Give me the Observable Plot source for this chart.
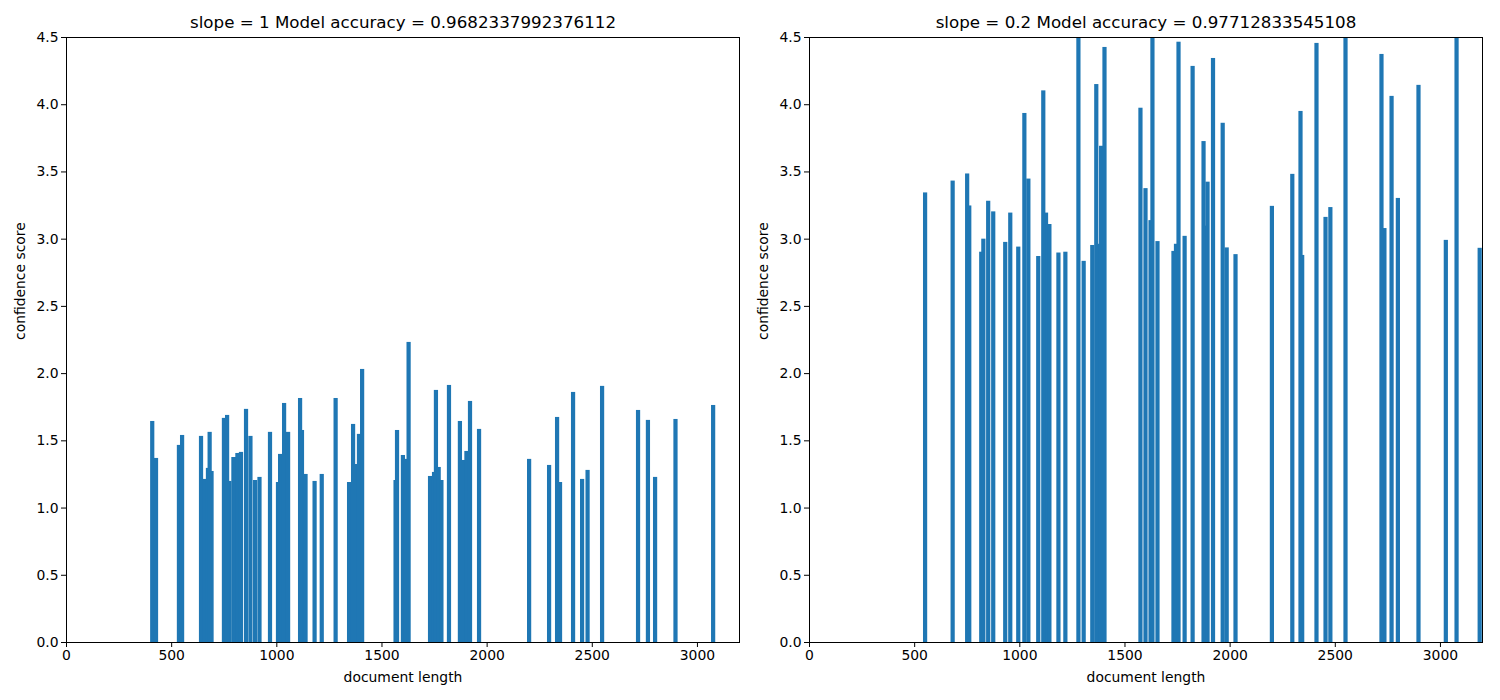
<!DOCTYPE html>
<html>
<head>
<meta charset="utf-8">
<script src="https://cdn.jsdelivr.net/npm/d3@7"></script>
<script src="https://cdn.jsdelivr.net/npm/@observablehq/plot@0.6"></script>
<style>
  html, body { margin: 0; padding: 0; background: white; }
  #wrap { display: flex; flex-direction: row; width: 1500px; height: 700px; }
</style>
</head>
<body>
<div id="wrap"></div>
<script>
// ---- data ----
const titles = [
  "slope = 1 Model accuracy = 0.9682337992376112",
  "slope = 0.2 Model accuracy = 0.97712833545108"
];
const xLabel = "document length";
const yLabel = "confidence score";
const xTicks = [0, 500, 1000, 1500, 2000, 2500, 3000];
const yTicks = [0, 0.5, 1.0, 1.5, 2.0, 2.5, 3.0, 3.5, 4.0, 4.5];

// left panel (slope = 1), in drawing order
const leftLength = [410, 428, 537, 552, 642, 661, 675, 692, 683, 751, 777, 766, 796, 804, 815, 832, 856, 877, 899, 920,
  970, 1008, 1018, 1037, 1056, 1122, 1113, 1139, 1182, 1216, 1282, 1346, 1365, 1384, 1393, 1408,
  1567, 1574, 1602, 1617, 1629, 1731, 1750, 1759, 1772, 1785, 1821, 1873, 1888, 1904, 1921, 1964,
  2202, 2297, 2349, 2335, 2411, 2454, 2480, 2549, 2720, 2767, 2801, 2898, 3077];
const leftScore = [1.644, 1.369, 1.466, 1.540, 1.533, 1.213, 1.295, 1.272, 1.563, 1.667, 1.198, 1.689, 1.376, 1.376, 1.406, 1.414, 1.734, 1.533, 1.205, 1.228,
  1.563, 1.190, 1.399, 1.778, 1.563, 1.577, 1.815, 1.250, 1.198, 1.250, 1.815, 1.190, 1.622, 1.324, 1.548, 2.031,
  1.205, 1.577, 1.391, 1.362, 2.232, 1.235, 1.265, 1.875, 1.302, 1.205, 1.912, 1.644, 1.354, 1.421, 1.793, 1.585,
  1.362, 1.317, 1.190, 1.674, 1.860, 1.213, 1.280, 1.905, 1.726, 1.652, 1.228, 1.659, 1.763];

// right panel (slope = 0.2), in drawing order
const rightLength = [552, 683, 762, 752, 819, 829, 852, 876, 933, 957, 995, 1024, 1043, 1090, 1127, 1114, 1143, 1186, 1219,
  1281, 1306, 1347, 1373, 1366, 1389, 1405, 1576, 1600, 1624, 1633, 1657, 1733, 1745, 1757, 1786, 1824,
  1895, 1887, 1876, 1921, 1967, 1986, 2028, 2201, 2298, 2345, 2337, 2413, 2456, 2479, 2551,
  2736, 2722, 2770, 2800, 2898, 3028, 3079, 3189];
const rightScore = [3.344, 3.432, 3.247, 3.485, 2.903, 3.000, 3.282, 3.203, 2.976, 3.194, 2.941, 3.935, 3.447, 2.871, 3.194, 4.103, 3.109, 2.897, 2.903,
  4.600, 2.835, 2.953, 2.962, 4.150, 3.691, 4.426, 3.974, 3.376, 3.138, 4.600, 2.982, 2.909, 2.962, 4.465, 3.021, 4.285,
  3.424, 3.097, 3.726, 4.344, 3.862, 2.935, 2.885, 3.244, 3.482, 2.879, 3.950, 4.456, 3.162, 3.235, 4.600,
  3.079, 4.374, 4.062, 3.303, 4.144, 2.991, 4.600, 2.932];

// ---- drawing ----
const barHalf = 10;
const font = "DejaVu Sans, sans-serif";

function panel(lengths, scores, title, mLeft, mRight) {
  const rows = lengths.map((x, i) => ({x, y: scores[i]}));
  return Plot.plot({
    width: 750,
    height: 700,
    marginLeft: mLeft,
    marginRight: mRight,
    marginTop: 37,
    marginBottom: 58,
    style: {fontFamily: font, fontSize: "13.9px", background: "white", color: "black", overflow: "visible"},
    x: {domain: [0, 3200]},
    y: {domain: [0, 4.5]},
    marks: [
      Plot.rect(rows, {x1: d => d.x - barHalf, x2: d => d.x + barHalf, y1: 0, y2: "y", fill: "#1f77b4", clip: true}),
      Plot.frame({stroke: "black", strokeWidth: 1}),
      Plot.axisX({ticks: xTicks, tickFormat: d3.format("d"), tickSize: 5, tickPadding: 3, label: null, fontSize: 13.9}),
      Plot.axisY({ticks: yTicks, tickFormat: d3.format(".1f"), tickSize: 5, tickPadding: 3, label: null, fontSize: 13.9}),
      Plot.text([title], {text: d => d, frameAnchor: "top", lineAnchor: "middle", dy: -15, fontSize: 16.7, fill: "black"}),
      Plot.text([xLabel], {text: d => d, frameAnchor: "bottom", lineAnchor: "middle", dy: 35, fontSize: 13.9, fill: "black"}),
      Plot.text([yLabel], {text: d => d, frameAnchor: "left", lineAnchor: "middle", dx: -46, rotate: -90, fontSize: 13.9, fill: "black"})
    ]
  });
}

const wrap = document.getElementById("wrap");
wrap.appendChild(panel(leftLength, leftScore, titles[0], 66, 11));
wrap.appendChild(panel(rightLength, rightScore, titles[1], 59, 18));
</script>
</body>
</html>
